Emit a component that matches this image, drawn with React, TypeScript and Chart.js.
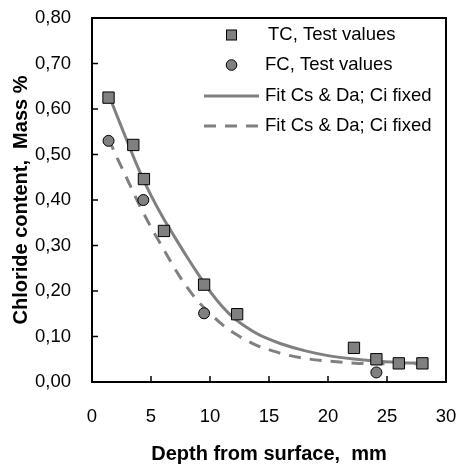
import React, { useEffect, useRef } from "react";
import { Chart, registerables } from "chart.js";

Chart.register(...registerables);

// Measured test values
const tcDepth = [1.4, 3.5, 4.4, 6.1, 9.5, 12.3, 22.2, 24.1, 26.0, 28.0];
const tcChloride = [0.625, 0.521, 0.446, 0.332, 0.214, 0.149, 0.075, 0.05, 0.041, 0.041];

const fcDepth = [1.4, 4.35, 9.5, 24.1];
const fcChloride = [0.53, 0.40, 0.151, 0.021];

// Fitted curves
const fitDepth = [1.4, 2, 3, 4, 5, 6, 7, 8, 9, 10, 11, 12, 13, 14, 15, 16, 18, 20, 22, 24, 26, 28];
const tcFit = [0.632, 0.593, 0.528, 0.465, 0.41, 0.362, 0.319, 0.277, 0.237, 0.199, 0.167, 0.141, 0.122, 0.106, 0.094, 0.084, 0.069, 0.058, 0.051, 0.046, 0.043, 0.041];
const fcFit = [0.535, 0.50, 0.445, 0.39, 0.34, 0.295, 0.25, 0.21, 0.177, 0.151, 0.127, 0.108, 0.093, 0.080, 0.071, 0.063, 0.052, 0.046, 0.042, 0.040, 0.040, 0.040];

const legendLabels = ["TC, Test values", "FC, Test values", "Fit Cs & Da; Ci fixed", "Fit Cs & Da; Ci fixed"];

const xTitle = "Depth from surface,  mm";
const yTitle = "Chloride content,  Mass %";

const GRAY = "#808080";
const FONT = "Arial, 'Liberation Sans', sans-serif";

const zip = (xs: number[], ys: number[]) => xs.map((x, i) => ({ x, y: ys[i] }));

const framePlugin = {
  id: "frame",
  beforeDatasetsDraw(chart: any) {
    const { ctx, chartArea } = chart;
    const { left, right, top, bottom } = chartArea;
    const xs = chart.scales.x;
    const ys = chart.scales.y;
    ctx.save();
    ctx.strokeStyle = "#000";
    ctx.lineWidth = 2;
    ctx.strokeRect(left, top, right - left, bottom - top);
    ctx.lineWidth = 1.5;
    ctx.beginPath();
    xs.ticks.forEach((t: any) => {
      const px = xs.getPixelForValue(t.value);
      if (px > left + 1 && px < right - 1) {
        ctx.moveTo(px, bottom);
        ctx.lineTo(px, bottom - 6);
      }
    });
    ys.ticks.forEach((t: any) => {
      const py = ys.getPixelForValue(t.value);
      if (py > top + 1 && py < bottom - 1) {
        ctx.moveTo(left, py);
        ctx.lineTo(left + 6, py);
      }
    });
    ctx.stroke();
    ctx.restore();
  },
  afterDatasetsDraw(chart: any) {
    const { ctx } = chart;
    ctx.save();
    ctx.font = `18.5px ${FONT}`;
    ctx.textBaseline = "middle";
    ctx.textAlign = "left";
    const rows = [35, 65, 96, 126];
    // square
    ctx.fillStyle = GRAY;
    ctx.strokeStyle = "#000";
    ctx.lineWidth = 1;
    ctx.fillRect(226.5, rows[0] - 5, 10, 10);
    ctx.strokeRect(226.5, rows[0] - 5, 10, 10);
    // circle
    ctx.beginPath();
    ctx.arc(231.5, rows[1], 5.3, 0, Math.PI * 2);
    ctx.fill();
    ctx.stroke();
    // lines
    ctx.strokeStyle = GRAY;
    ctx.lineWidth = 3;
    ctx.beginPath();
    ctx.moveTo(204, rows[2]);
    ctx.lineTo(259, rows[2]);
    ctx.stroke();
    ctx.setLineDash([12, 9]);
    ctx.beginPath();
    ctx.moveTo(204, rows[3]);
    ctx.lineTo(259, rows[3]);
    ctx.stroke();
    ctx.setLineDash([]);
    ctx.fillStyle = "#000";
    ctx.fillText(legendLabels[0], 268, rows[0]);
    ctx.fillText(legendLabels[1], 265, rows[1]);
    ctx.fillText(legendLabels[2], 265, rows[2]);
    ctx.fillText(legendLabels[3], 265, rows[3]);
    ctx.restore();
  },
};

export default function App() {
  const ref = useRef<HTMLCanvasElement>(null);
  useEffect(() => {
    if (!ref.current) return;
    const chart = new Chart(ref.current, {
      type: "scatter",
      data: {
        datasets: [
          {
            label: legendLabels[0],
            data: zip(tcDepth, tcChloride),
            pointStyle: "rect",
            pointRadius: 8,
            backgroundColor: GRAY,
            borderColor: "#000",
            borderWidth: 1,
            showLine: false,
            order: 0,
          },
          {
            label: legendLabels[1],
            data: zip(fcDepth, fcChloride),
            pointStyle: "circle",
            pointRadius: 5.5,
            backgroundColor: GRAY,
            borderColor: "#000",
            borderWidth: 1,
            showLine: false,
            order: 0,
          },
          {
            label: legendLabels[2],
            data: zip(fitDepth, tcFit),
            showLine: true,
            borderColor: GRAY,
            borderWidth: 3,
            pointRadius: 0,
            cubicInterpolationMode: "monotone",
            order: 1,
          },
          {
            label: legendLabels[3],
            data: zip(fitDepth, fcFit),
            showLine: true,
            borderColor: GRAY,
            borderWidth: 3,
            borderDash: [12, 9],
            pointRadius: 0,
            cubicInterpolationMode: "monotone",
            order: 1,
          },
        ] as any,
      },
      options: {
        animation: false,
        responsive: false,
        devicePixelRatio: 1,
        layout: { padding: { left: 0, right: 14, top: 18, bottom: 0 } },
        plugins: { legend: { display: false }, tooltip: { enabled: false } },
        scales: {
          x: {
            type: "linear",
            min: 0,
            max: 30,
            afterFit: (s: any) => {
              s.height = 84;
              s.paddingLeft = 0;
              s.paddingRight = 0;
            },
            grid: { display: false, drawTicks: false },
            border: { display: false },
            ticks: {
              stepSize: 5,
              padding: 24,
              color: "#000",
              font: { family: FONT, size: 18.5 },
            },
            title: {
              display: true,
              text: xTitle,
              color: "#000",
              font: { family: FONT, size: 20, weight: "bold" },
              padding: { top: 0, bottom: 0 },
            },
          },
          y: {
            type: "linear",
            min: 0,
            max: 0.8,
            afterFit: (s: any) => {
              s.width = 92;
              s.paddingTop = 0;
              s.paddingBottom = 0;
            },
            grid: { display: false, drawTicks: false },
            border: { display: false },
            ticks: {
              stepSize: 0.1,
              padding: 21,
              color: "#000",
              font: { family: FONT, size: 18.5 },
              callback: (v: any) => Number(v).toFixed(2).replace(".", ","),
            },
            title: {
              display: true,
              text: yTitle,
              color: "#000",
              font: { family: FONT, size: 20, weight: "bold" },
              padding: { top: 9, bottom: 0 },
            },
          },
        },
      },
      plugins: [framePlugin],
    });
    return () => chart.destroy();
  }, []);
  return (
    <div style={{ position: "absolute", left: 0, top: 0, width: 460, height: 466, background: "#fff" }}>
      <canvas ref={ref} width={460} height={466} style={{ width: 460, height: 466, display: "block" }} />
    </div>
  );
}
